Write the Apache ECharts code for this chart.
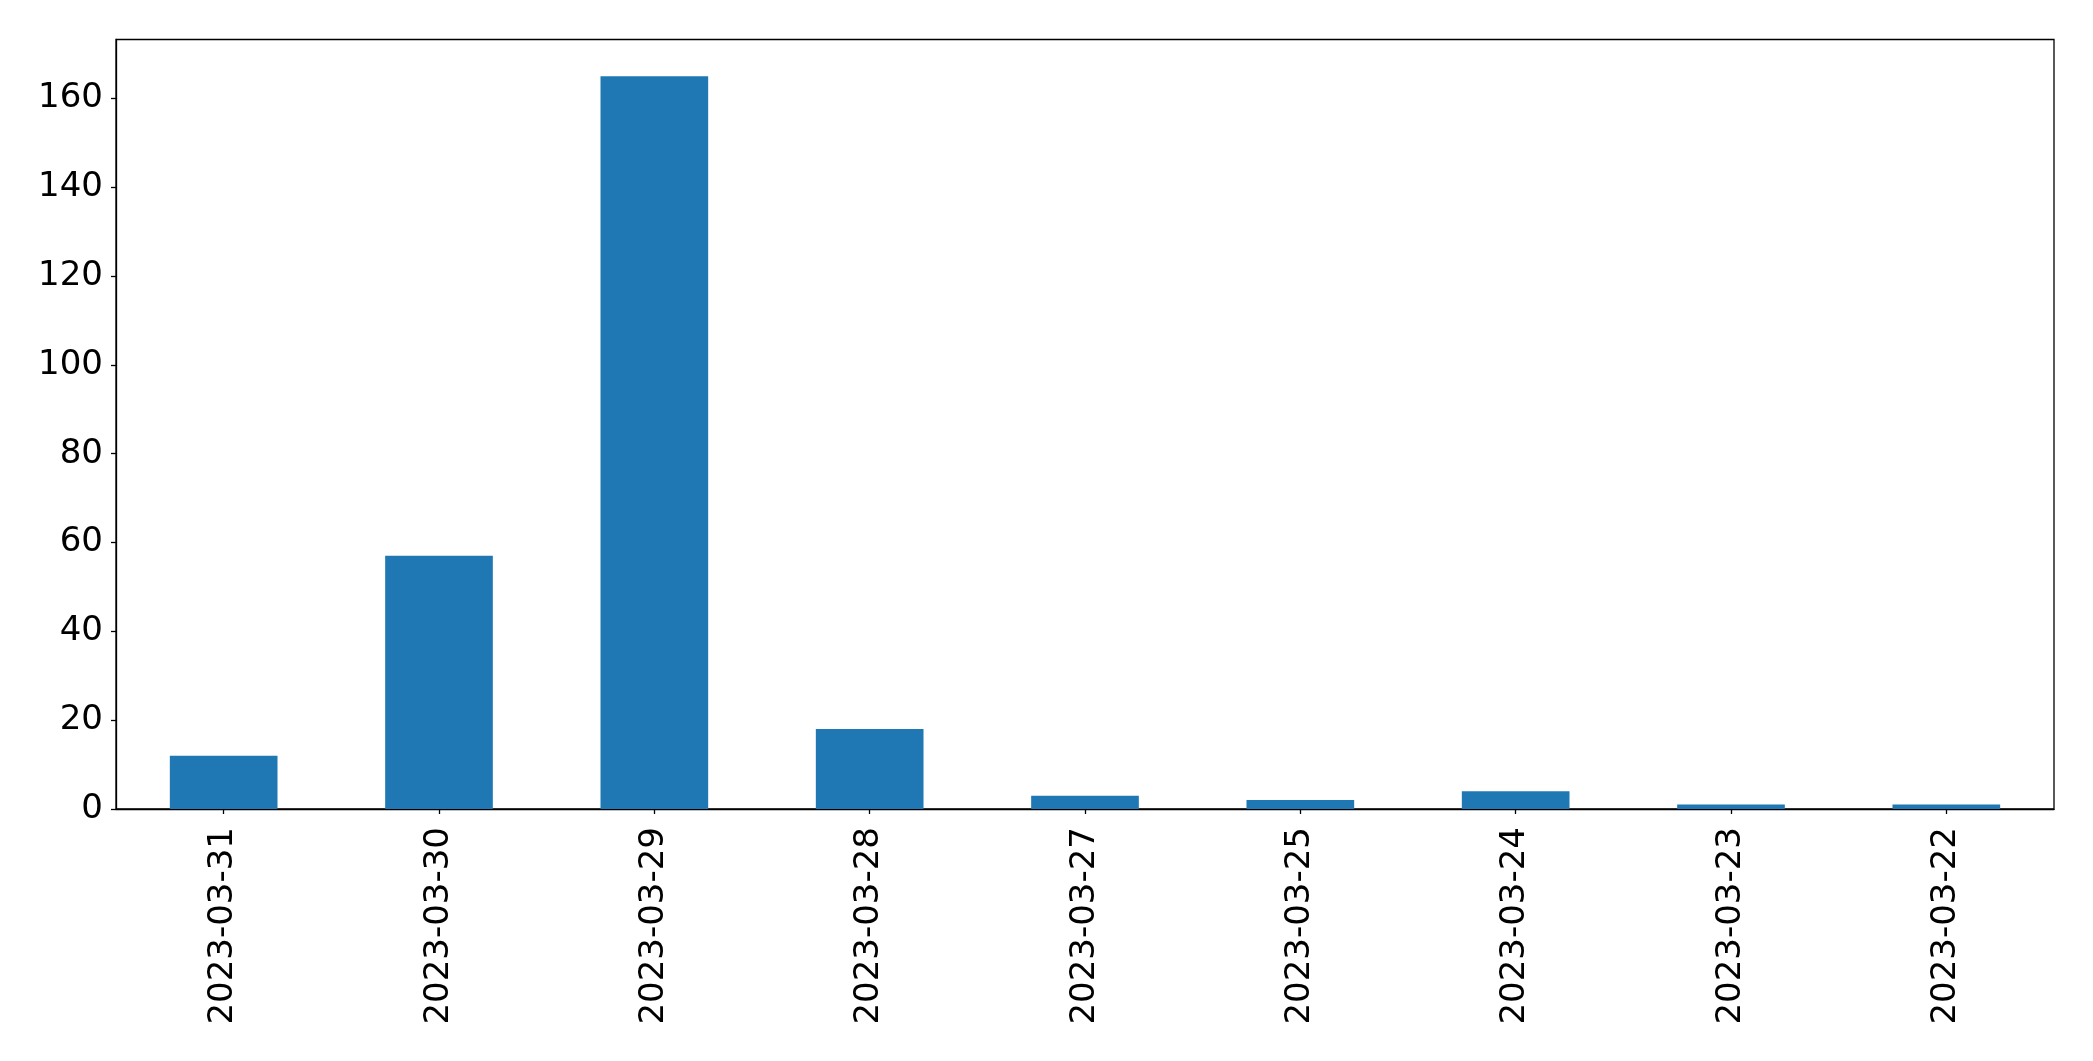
<!DOCTYPE html>
<html>
<head>
<meta charset="utf-8">
<script src="https://cdn.jsdelivr.net/npm/echarts@6/dist/echarts.min.js"></script>
<style>html,body{margin:0;padding:0;background:#fff;}#c{width:2093px;height:1061px;}</style>
</head>
<body>
<div id="c"></div>
<script>
const categories = ["2023-03-31","2023-03-30","2023-03-29","2023-03-28","2023-03-27","2023-03-25","2023-03-24","2023-03-23","2023-03-22"];
const values = [12, 57, 165, 18, 3, 2, 4, 1, 1];
const yTicks = [0, 20, 40, 60, 80, 100, 120, 140, 160];

const chart = echarts.init(document.getElementById('c'), null, {renderer: 'canvas'});
const font = 'DejaVu Sans';
chart.setOption({
  animation: false,
  backgroundColor: '#ffffff',
  grid: {
    left: 116, right: 39, top: 39.5, bottom: 252,
    show: true, borderColor: '#000', borderWidth: 1.3, backgroundColor: 'transparent'
  },
  xAxis: {
    type: 'category',
    data: categories,
    boundaryGap: true,
    axisLine: {show: true, lineStyle: {color: '#000', width: 1.3}},
    axisTick: {show: true, alignWithLabel: true, length: 5, lineStyle: {color: '#000', width: 1.3}},
    axisLabel: {rotate: 90, margin: 18, color: '#000', fontFamily: font, fontSize: 34, interval: 0},
    splitLine: {show: false}
  },
  yAxis: {
    type: 'value',
    min: 0,
    max: 173.25,
    interval: 20,
    axisLine: {show: true, lineStyle: {color: '#000', width: 1.3}},
    axisTick: {show: true, length: 5, lineStyle: {color: '#000', width: 1.3}, customValues: yTicks},
    axisLabel: {margin: 13, color: '#000', fontFamily: font, fontSize: 34, customValues: yTicks},
    splitLine: {show: false}
  },
  series: [{
    type: 'bar',
    data: values,
    barWidth: '50%',
    itemStyle: {color: '#1f77b4'}
  }]
});
</script>
</body>
</html>
